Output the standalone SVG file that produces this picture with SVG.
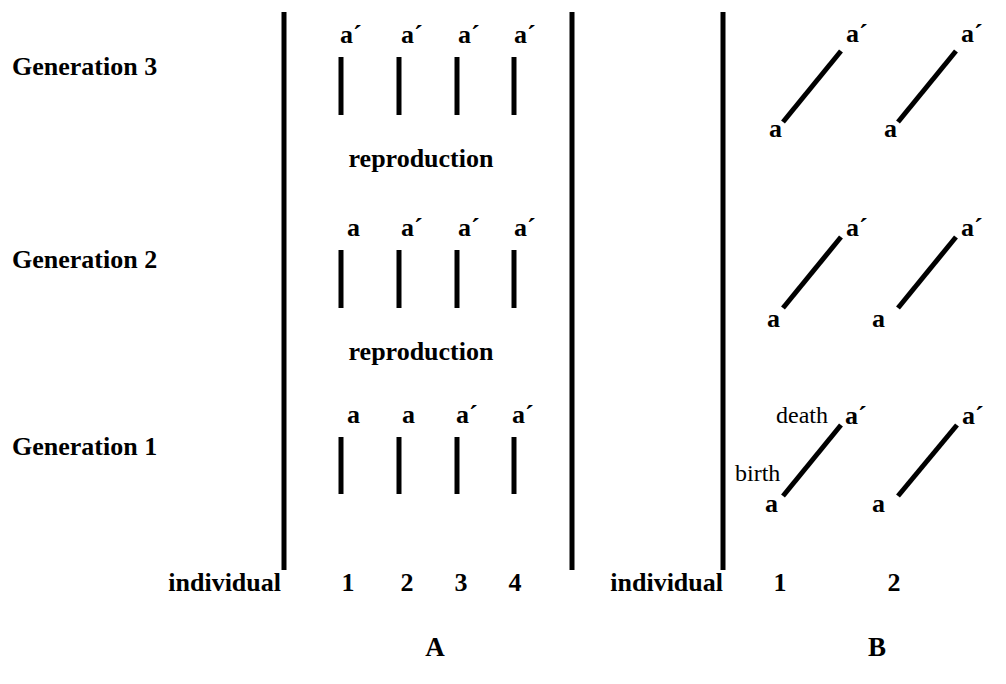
<svg xmlns="http://www.w3.org/2000/svg" width="1006" height="684" viewBox="0 0 1006 684">
<style>
text{font-family:"Liberation Serif","Times New Roman",serif;fill:#000}
.b{font-weight:bold;font-size:26px}
.big{font-weight:bold;font-size:27px}
.r{font-size:24px}
.m{text-anchor:middle}
.e{text-anchor:end}
.sep{stroke:#000;stroke-width:5}
.bar{stroke:#000;stroke-width:5}
.life{stroke:#000;stroke-width:5}
</style>
<rect width="1006" height="684" fill="#fff"/>
<g id="row-labels">
<text class="b" x="12" y="75">Generation 3</text>
<text class="b" x="12" y="268">Generation 2</text>
<text class="b" x="12" y="455">Generation 1</text>
</g>
<g id="separators">
<line class="sep" x1="284" y1="12" x2="284" y2="570"/>
<line class="sep" x1="572" y1="12" x2="572" y2="570"/>
<line class="sep" x1="723" y1="12" x2="723" y2="570"/>
</g>
<g id="panelA">
<g id="A-gen3">
<text class="b" x="340" y="43">a´</text>
<text class="b" x="401" y="43">a´</text>
<text class="b" x="458" y="43">a´</text>
<text class="b" x="514" y="43">a´</text>
<line class="bar" x1="341" y1="57" x2="341" y2="115"/>
<line class="bar" x1="399" y1="57" x2="399" y2="115"/>
<line class="bar" x1="457" y1="57" x2="457" y2="115"/>
<line class="bar" x1="514" y1="57" x2="514" y2="115"/>
</g>
<text id="repro2" class="b m" x="421" y="167">reproduction</text>
<g id="A-gen2">
<text class="b" x="347" y="236">a</text>
<text class="b" x="401" y="236">a´</text>
<text class="b" x="458" y="236">a´</text>
<text class="b" x="514" y="236">a´</text>
<line class="bar" x1="341" y1="250" x2="341" y2="308"/>
<line class="bar" x1="399" y1="250" x2="399" y2="308"/>
<line class="bar" x1="457" y1="250" x2="457" y2="308"/>
<line class="bar" x1="514" y1="250" x2="514" y2="308"/>
</g>
<text id="repro1" class="b m" x="421" y="360">reproduction</text>
<g id="A-gen1">
<text class="b" x="347" y="423">a</text>
<text class="b" x="402" y="423">a</text>
<text class="b" x="456" y="423">a´</text>
<text class="b" x="512" y="423">a´</text>
<line class="bar" x1="341" y1="437" x2="341" y2="494"/>
<line class="bar" x1="399" y1="437" x2="399" y2="494"/>
<line class="bar" x1="457" y1="437" x2="457" y2="494"/>
<line class="bar" x1="514" y1="437" x2="514" y2="494"/>
</g>
<g id="A-axis">
<text class="b e" x="281" y="591">individual</text>
<text class="b m" x="348" y="591">1</text>
<text class="b m" x="407" y="591">2</text>
<text class="b m" x="461" y="591">3</text>
<text class="b m" x="515" y="591">4</text>
</g>
<text id="labelA" class="big m" x="435" y="656">A</text>
</g>
<g id="panelB">
<g id="B-gen3">
<text class="b" x="846" y="42">a´</text>
<text class="b" x="961" y="42">a´</text>
<text class="b" x="769" y="137">a</text>
<text class="b" x="884" y="137">a</text>
</g>
<g id="B-gen2">
<text class="b" x="846" y="236">a´</text>
<text class="b" x="961" y="236">a´</text>
<text class="b" x="767" y="327">a</text>
<text class="b" x="872" y="327">a</text>
</g>
<g id="B-gen1">
<text class="r" x="776" y="423">death</text>
<text class="r" x="735" y="481">birth</text>
<text class="b" x="845" y="424">a´</text>
<text class="b" x="962" y="424">a´</text>
<text class="b" x="765" y="512">a</text>
<text class="b" x="872" y="512">a</text>
</g>
<g id="B-axis">
<text class="b e" x="723" y="591">individual</text>
<text class="b m" x="780" y="591">1</text>
<text class="b m" x="894" y="591">2</text>
</g>
<text id="labelB" class="big m" x="877" y="656">B</text>
</g>
<g id="connectors">
<line class="life" x1="783" y1="122" x2="841" y2="51"/>
<line class="life" x1="898" y1="122" x2="956" y2="51"/>
<line class="life" x1="783" y1="308" x2="841" y2="237"/>
<line class="life" x1="898" y1="308" x2="956" y2="237"/>
<line class="life" x1="783" y1="496" x2="841" y2="425"/>
<line class="life" x1="898" y1="496" x2="957" y2="425"/>
</g>
</svg>
